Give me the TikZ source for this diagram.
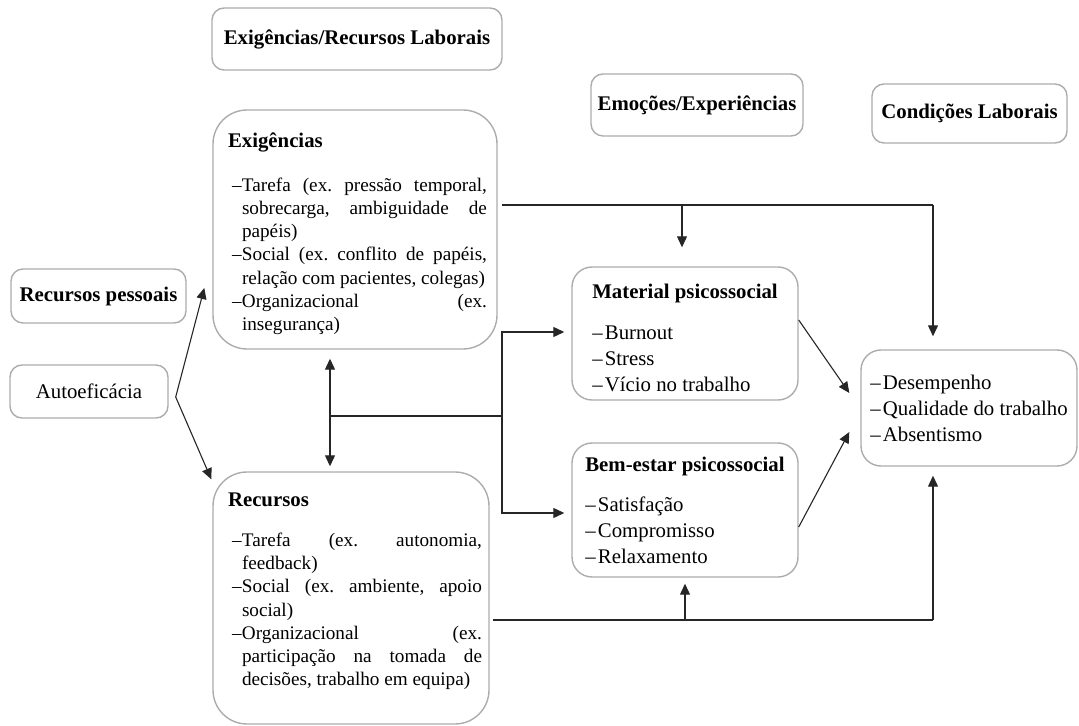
\documentclass[tikz,border=0pt]{standalone}
\usepackage{fontspec}
\setmainfont{Liberation Serif}
\usetikzlibrary{arrows.meta}

\frenchspacing
\newcommand{\bodysize}{\fontsize{9.6}{11.6}\selectfont}
\newcommand{\listsize}{\fontsize{10.4}{13}\selectfont}
\newcommand{\headsize}{\fontsize{10.4}{12.5}\selectfont\bfseries}
\newcommand{\nohyph}{\hyphenpenalty=10000\relax\tolerance=10000\relax}
% dash in front of a short entry
\newcommand{\dashmark}{\makebox[6.3pt][l]{--}}
% one entry of a justified list, shifted right by #1, dash hanging
\newcommand{\bigitem}[2]{\par\hangindent=\dimexpr#1+5pt\relax\hangafter=1\noindent\hspace*{#1}\makebox[5pt][l]{--}#2}

\tikzset{
  box/.style={draw=gray!65, line width=0.7pt, rounded corners=6pt, inner sep=0pt, align=center},
  headbox/.style={box, font=\headsize},
  bigbox/.style={box, rounded corners=17pt, align=justify, font=\bodysize\nohyph},
  midbox/.style={box, rounded corners=10pt, align=left, font=\listsize},
  link/.style={line width=0.55pt, black!85},
  arr/.style={link, -{Triangle[length=5.5pt,width=5pt]}},
  dblarr/.style={link, {Triangle[length=5.5pt,width=5pt]}-{Triangle[length=5.5pt,width=5pt]}},
}

\begin{document}
\begin{tikzpicture}[x=0.5pt, y=-0.5pt]
\useasboundingbox (0,0) rectangle (1079,726);

% ===== headings =====
\node[headbox, minimum width=145pt, minimum height=31pt] (lab) at (357,39) {Exigências/Recursos Laborais};
\node[headbox, minimum width=106pt, minimum height=31pt] (emo) at (697,105) {Emoções/Experiências};
\node[headbox, minimum width=97.5pt, minimum height=29.5pt] (cond) at (969.5,113.5) {Condições Laborais};
\node[headbox, minimum width=87.5pt, minimum height=27pt] (pess) at (98.5,296) {Recursos pessoais};
\node[box, font=\listsize, minimum width=79pt, minimum height=26.5pt] (auto) at (89,391.5) {Autoeficácia};

% ===== job demands / resources =====
\node[bigbox, text width=132pt, minimum width=142pt, minimum height=119.5pt] (exig) at (355,229.5) {%
  \hspace*{2.5pt}{\headsize\rule{0pt}{11.5pt}Exigências}\par\vspace{10.4pt}
  \bigitem{4.5pt}{Tarefa (ex. pressão temporal,\linebreak sobrecarga, ambiguidade de\linebreak papéis)}
  \bigitem{4.5pt}{Social (ex. conflito de papéis,\linebreak relação com pacientes, colegas)}
  \bigitem{4.5pt}{Organizacional (ex.\linebreak insegurança)}\par};

\node[bigbox, text width=131pt, minimum width=138pt, minimum height=126pt] (recu) at (351,598) {%
  \hspace*{4pt}{\headsize Recursos}\par\vspace{8.2pt}
  \bigitem{6pt}{Tarefa (ex. autonomia,\linebreak feedback)}
  \bigitem{6pt}{Social (ex. ambiente, apoio\linebreak social)}
  \bigitem{6pt}{Organizacional (ex.\linebreak participação na tomada de\linebreak decisões, trabalho em equipa)\rule[-8.5pt]{0pt}{0pt}}\par};

% ===== emotions / experiences =====
\node[midbox, minimum width=113pt, minimum height=66.5pt] (mat) at (685,333.5) {%
  {\headsize\rule{0pt}{11.5pt}Material psicossocial}\\[7.8pt]
  \dashmark Burnout\\ \dashmark Stress\\ \dashmark Vício no trabalho};

\node[midbox, minimum width=113pt, minimum height=67pt] (bem) at (685,510) {%
  {\headsize Bem-estar psicossocial}\\[7pt]
  \dashmark Satisfação\\ \dashmark Compromisso\\ \dashmark Relaxamento};

% ===== outcomes =====
\node[midbox, minimum width=108pt, minimum height=58pt] (out) at (969,408) {%
  \dashmark Desempenho\\ \dashmark Qualidade do trabalho\\ \dashmark Absentismo};

% ===== arrows =====
\coordinate (av) at ([xshift=3.5pt,yshift=-2.75pt]auto.east);
\draw[arr] (av) -- ([xshift=-4pt,yshift=-29.25pt]exig.west);
\draw[arr] (av) -- ([xshift=-0.5pt,yshift=-4pt]recu.north west);

\coordinate (ea) at ([xshift=-12.5pt,yshift=-4.5pt]exig.south);
\coordinate (ra) at ([xshift=-10.5pt,yshift=2.5pt]recu.north);
\draw[dblarr] (ea) -- (ra);

\coordinate (jl) at (330,416);
\coordinate (jr) at (502,416);
\draw[link] (jl) -- (jr);
\draw[arr] (jr) |- ([xshift=-3.5pt,yshift=0.75pt]mat.west);
\draw[arr] (jr) |- ([xshift=-3.5pt,yshift=-1.5pt]bem.west);

\coordinate (matup) at ([yshift=9.5pt]mat.north);
\coordinate (outup) at ([yshift=6.5pt]out.north);
\coordinate (bemdn) at ([yshift=-3pt]bem.south);
\coordinate (outdn) at ([yshift=-4.5pt]out.south);

\coordinate (et) at (502,205);
\coordinate (ec) at (682,205);
\coordinate (ee) at (933,205);
\draw[link] (et) -- (ee);
\draw[arr] (ec) -- (ec |- matup);
\draw[arr] (ee) -- (ee |- outup);

\coordinate (rt) at (493,620);
\coordinate (rc) at (685,620);
\coordinate (re) at (933,620);
\draw[link] (rt) -- (re);
\draw[arr] (rc) -- (rc |- bemdn);
\draw[arr] (re) -- (re |- outdn);

\draw[arr] ([yshift=6.75pt]mat.east) -- ([xshift=-5.5pt,yshift=7.5pt]out.west);
\draw[arr] ([yshift=-8.5pt]bem.east) -- ([xshift=-5.5pt,yshift=-12pt]out.west);

\end{tikzpicture}
\end{document}
